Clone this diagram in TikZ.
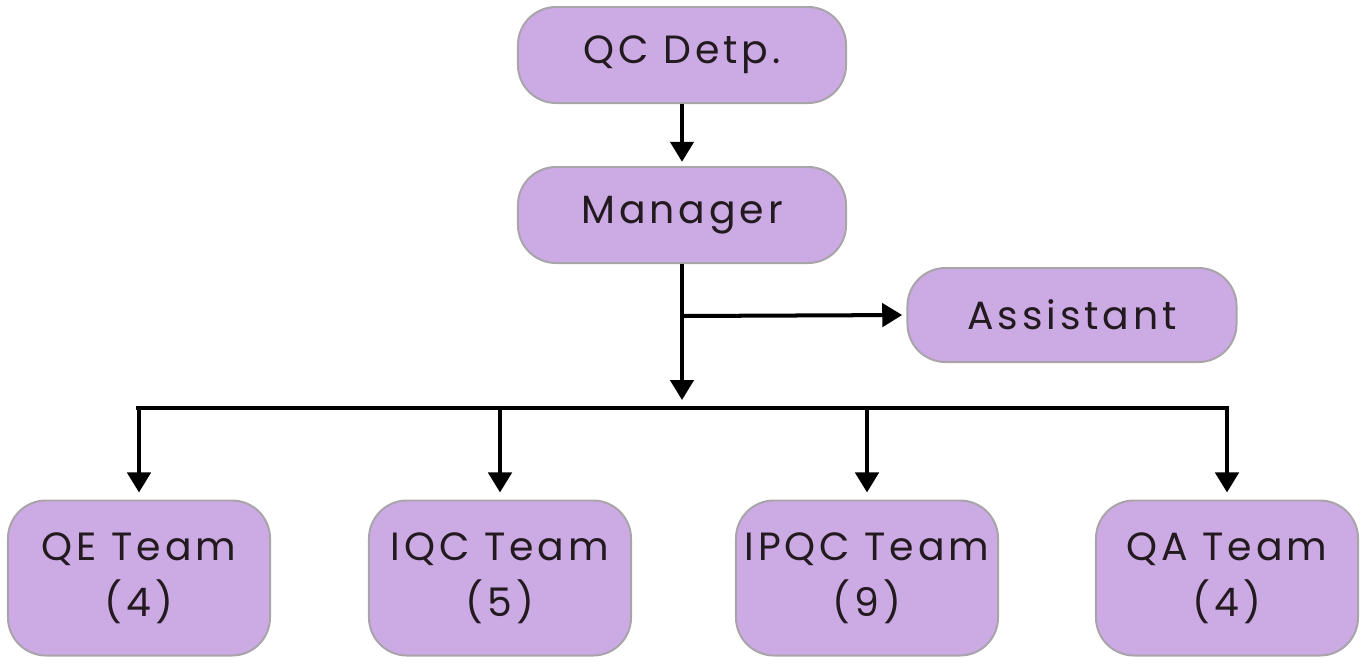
\documentclass[tikz,border=0pt]{standalone}
\usepackage{fontspec}
\setmainfont{Poppins}[LetterSpace=10]
\usetikzlibrary{arrows.meta}
\definecolor{boxfill}{HTML}{CCAAE3}
\definecolor{boxline}{HTML}{A8A4AA}
\definecolor{boxtext}{HTML}{231A1F}
\begin{document}
\begin{tikzpicture}[x=0.025cm, y=-0.025cm,
  box/.style={draw=boxline, line width=1.4pt, fill=boxfill, rounded corners=0.95cm,
    text=boxtext, align=center, font=\fontsize{28}{40}\selectfont},
  topbox/.style={box, minimum width=8.2cm, minimum height=2.4cm},
  teambox/.style={box, minimum width=6.55cm, minimum height=3.875cm},
  link/.style={line width=2.85pt, black},
  arr/.style={link, -{Triangle[width=0.58cm, length=0.5cm]}}]
  \useasboundingbox (0,0) rectangle (1368,667);
  % top of the tree
  \node[topbox] (qc) at (682,55) {QC Detp.};
  \node[topbox] (mgr) at (682,215) {Manager};
  \node[topbox, minimum width=8.225cm, minimum height=2.35cm] (asst) at (1072,315) {Assistant};
  % teams
  \node[teambox] (qe) at (139,578) {QE Team\\(4)};
  \node[teambox] (iqc) at (500,578) {IQC Team\\(5)};
  \node[teambox] (ipqc) at (867,578) {IPQC Team\\(9)};
  \node[teambox] (qa) at (1227,578) {QA Team\\(4)};
  % branch points
  \coordinate (hub) at (682,316);
  \coordinate (drop) at (682,400);
  \coordinate (bus) at (682,408);
  \draw[arr, shorten >=3pt] (qc) -- (mgr);
  \draw[arr] (mgr.south) -- (drop);
  \draw[arr, shorten >=3pt] (hub) -- (asst.west);
  \draw[link] ([xshift=-2pt]qe |- bus) -- ([xshift=1.4pt]qa |- bus);
  \draw[arr, shorten >=5pt] (qe |- bus) -- (qe.north);
  \draw[arr, shorten >=5pt] (iqc |- bus) -- (iqc.north);
  \draw[arr, shorten >=5pt] (ipqc |- bus) -- (ipqc.north);
  \draw[arr, shorten >=5pt] (qa |- bus) -- (qa.north);
\end{tikzpicture}
\end{document}
